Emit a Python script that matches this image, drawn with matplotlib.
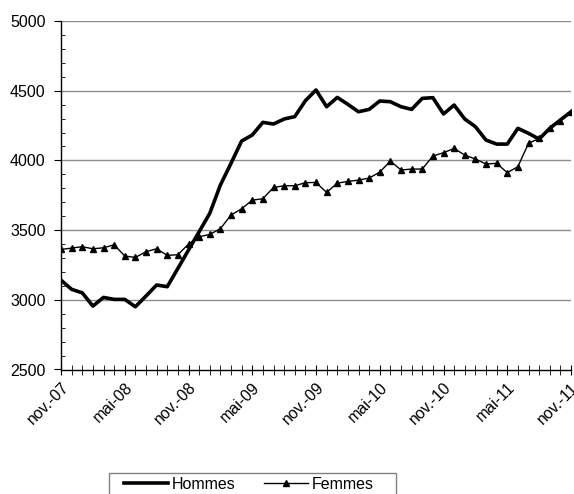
import numpy as np
import matplotlib.pyplot as plt
from matplotlib.ticker import MultipleLocator
from matplotlib.patches import Rectangle

plt.rcParams['font.family'] = ['Liberation Sans', 'DejaVu Sans']

# Séries mensuelles nov-07 -> nov-11
mois = ["nov.-07", "mai-08", "nov.-08", "mai-09", "nov.-09",
        "mai-10", "nov.-10", "mai-11", "nov.-11"]

hommes = [3141, 3075, 3050, 2955, 3017, 3003, 3003, 2950, 3027, 3106,
          3094, 3225, 3357, 3488, 3620, 3823, 3979, 4139, 4182, 4273,
          4261, 4297, 4314, 4428, 4505, 4385, 4452, 4402, 4349, 4366,
          4426, 4421, 4385, 4366, 4445, 4450, 4333, 4397, 4297, 4242,
          4146, 4117, 4117, 4230, 4194, 4153, 4230, 4290, 4349]

femmes = [3361, 3371, 3381, 3366, 3373, 3395, 3314, 3304, 3345, 3366,
          3319, 3323, 3400, 3452, 3469, 3510, 3608, 3653, 3715, 3725,
          3806, 3818, 3818, 3840, 3842, 3770, 3837, 3849, 3859, 3873,
          3916, 3995, 3931, 3938, 3938, 4031, 4055, 4086, 4038, 4010,
          3974, 3979, 3912, 3955, 4122, 4158, 4230, 4285, 4345]

x = np.arange(len(hommes))

W, H = 574, 494
fig = plt.figure(figsize=(W / 100, H / 100), dpi=100)
ax = fig.add_axes([61 / W, 1 - 369.5 / H, 510 / W, 348.5 / H])

# grille horizontale
for v in [3000, 3500, 4000, 4500, 5000]:
    ax.axhline(v, color="#8c8c8c", lw=1, zorder=0)

ax.plot(x, hommes, color="black", lw=2.6, label="Hommes", zorder=3)
ax.plot(x, femmes, color="black", lw=1, marker="^", markersize=5,
        label="Femmes", zorder=4)

ax.set_xlim(0, len(hommes) - 1)
ax.set_ylim(2500, 5000)

ax.set_yticks([2500, 3000, 3500, 4000, 4500, 5000])
ax.yaxis.set_minor_locator(MultipleLocator(100))
ax.tick_params(axis="y", which="major", direction="out", length=5,
               labelsize=11.5, pad=6, color="black")
ax.tick_params(axis="y", which="minor", direction="in", length=3)

ax.set_xticks(np.arange(0, len(hommes), 6))
ax.set_xticklabels(mois, rotation=45, ha="right", rotation_mode="anchor")
ax.xaxis.set_minor_locator(MultipleLocator(1))
ax.tick_params(axis="x", which="both", direction="inout", length=7,
               labelsize=11.5, pad=4)

for s in ["top", "right"]:
    ax.spines[s].set_visible(False)
ax.spines["left"].set_linewidth(1)
ax.spines["bottom"].set_linewidth(1)

# cadre de la légende (coupé par le bas de l'image, comme l'original)
fig.patches.append(Rectangle((109.5 / W, -0.05), (396 - 109.5) / W,
                             0.05 + 1 - 472.5 / H, transform=fig.transFigure,
                             fill=False, edgecolor="#808080", lw=1))

fig.legend(loc="center left", bbox_to_anchor=(124 / W, 1 - 484 / H),
           ncol=2, fontsize=11.5, frameon=False,
           handlelength=2.75, handletextpad=0.25, columnspacing=1.75,
           borderpad=0, borderaxespad=0)

fig.savefig("out.png", dpi=100)
